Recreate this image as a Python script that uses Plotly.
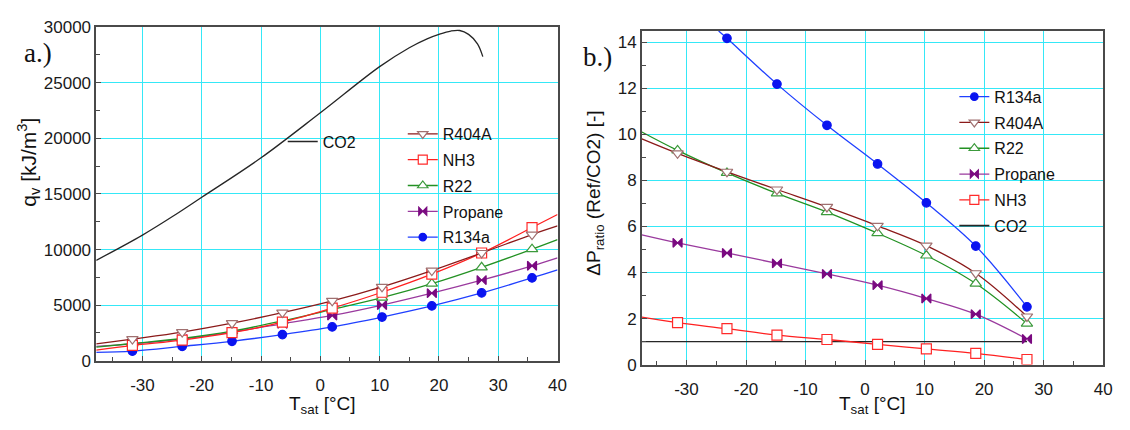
import plotly.graph_objects as go

W, H = 1130, 430

# ---------------- data: panel a (volumetric capacity, kJ/m3) ----------------
T_mark = [-31.7, -23.3, -14.9, -6.4, 2.0, 10.4, 18.8, 27.2, 35.7]
T_left_edge = -37.8
T_right_edge = 40.0

qv_R134a = [860, 1290, 1750, 2350, 3040, 3930, 4930, 6100, 7450]
qv_R134a_ends = [745, 8170]
qv_Propane = [1520, 1950, 2580, 3320, 4070, 5010, 6080, 7250, 8540]
qv_Propane_ends = [1290, 9260]
qv_R22 = [1550, 2000, 2660, 3580, 4610, 5670, 6930, 8400, 10030]
qv_R22_ends = [1230, 10890]
qv_NH3 = [1380, 1860, 2520, 3470, 4730, 6160, 7790, 9690, 11980]
qv_NH3_ends = [950, 13150]
qv_R404A = [1950, 2580, 3380, 4330, 5390, 6650, 8110, 9690, 11350]
qv_R404A_ends = [1520, 12120]

T_co2 = [-37.8, -30.0, -24.4, -20.0, -10.0, 0.0, 10.0, 15.0, 18.0, 20.0, 22.0, 23.5, 25.0, 26.5, 27.4]
qv_CO2 = [9030, 11300, 13150, 14700, 18250, 22300, 26450, 28150, 28950, 29350, 29650, 29700, 29350, 28500, 27350]

# ---------------- data: panel b (pressure-drop ratio) ----------------
Tb_mark = [-31.5, -23.2, -14.8, -6.4, 2.1, 10.3, 18.6, 27.2]
Tb_left_edge = -37.5

dp_R134a_T = [-24.6, -23.2, -14.8, -6.4, 2.1, 10.3, 18.6, 27.2]
dp_R134a = [14.5, 14.18, 12.19, 10.40, 8.72, 7.03, 5.15, 2.51]
dp_R404A = [9.18, 8.38, 7.61, 6.85, 6.03, 5.17, 3.97, 2.09]
dp_R404A_start = 9.81
dp_R22 = [9.31, 8.33, 7.44, 6.63, 5.71, 4.74, 3.52, 1.78]
dp_R22_start = 10.11
dp_Propane = [5.29, 4.85, 4.40, 3.94, 3.45, 2.87, 2.19, 1.11]
dp_Propane_start = 5.64
dp_NH3 = [1.82, 1.56, 1.28, 1.09, 0.88, 0.68, 0.49, 0.22]
dp_NH3_start = 2.06
dp_CO2_T = [-37.5, 27.2]
dp_CO2 = [1.0, 1.0]

# tick labels
x_ticks = [-30, -20, -10, 0, 10, 20, 30, 40]
x_ticklabels = ["-30", "-20", "-10", "0", "10", "20", "30", "40"]
ya_ticks = [0, 5000, 10000, 15000, 20000, 25000, 30000]
ya_ticklabels = ["0", "5000", "10000", "15000", "20000", "25000", "30000"]
yb_ticks = [0, 2, 4, 6, 8, 10, 12, 14]
yb_ticklabels = ["0", "2", "4", "6", "8", "10", "12", "14"]

# ---------------- styles ----------------
FONT = "Liberation Sans, Arial, sans-serif"
GRID = "#35E8F7"
FRAME = "#4a4a4a"

STY = {
    "R134a":   dict(line="#2040FF", sym="circle", size=8.5, fill="#0A14F0", edge="#0A14F0"),
    "R404A":   dict(line="#8B1A1A", sym="triangle-down", size=10, fill="white", edge="#A07070"),
    "R22":     dict(line="#239123", sym="triangle-up", size=10, fill="white", edge="#3C9A3C"),
    "Propane": dict(line="#9A3A9E", sym="bowtie", size=9, fill="#7A0A80", edge="#7A0A80"),
    "NH3":     dict(line="#FF2020", sym="square", size=10, fill="white", edge="#FF2A2A"),
    "CO2":     dict(line="#262626"),
}

fig = go.Figure()


def add_series(name, xl, yl, xm, ym, xa, ya):
    s = STY[name]
    fig.add_trace(go.Scatter(x=xl, y=yl, mode="lines", line=dict(color=s["line"], width=1.3, shape="spline"),
                             showlegend=False, hoverinfo="skip", xaxis=xa, yaxis=ya))
    fig.add_trace(go.Scatter(x=xm, y=ym, mode="markers",
                             marker=dict(symbol=s["sym"], size=s["size"], color=s["fill"],
                                         line=dict(color=s["edge"], width=1.2)),
                             showlegend=False, xaxis=xa, yaxis=ya))


def add_legend_entry(name, legend, xa, ya, with_marker=True):
    s = STY[name]
    if with_marker:
        fig.add_trace(go.Scatter(x=[None], y=[None], mode="lines+markers", name=name,
                                 line=dict(color=s["line"], width=1.3),
                                 marker=dict(symbol=s["sym"], size=s["size"] - 1, color=s["fill"],
                                             line=dict(color=s["edge"], width=1.2)),
                                 legend=legend, legendgroup=legend + name, xaxis=xa, yaxis=ya))
    else:
        fig.add_trace(go.Scatter(x=[None], y=[None], mode="lines", name=name,
                                 line=dict(color=s["line"], width=1.6),
                                 legend=legend, legendgroup=legend + name, xaxis=xa, yaxis=ya))


# panel a
fig.add_trace(go.Scatter(x=T_co2, y=qv_CO2, mode="lines", line=dict(color=STY["CO2"]["line"], width=1.3, shape="spline"),
                         showlegend=False, xaxis="x", yaxis="y"))
for nm, vals, ends in [("R134a", qv_R134a, qv_R134a_ends), ("Propane", qv_Propane, qv_Propane_ends),
                       ("R22", qv_R22, qv_R22_ends), ("NH3", qv_NH3, qv_NH3_ends),
                       ("R404A", qv_R404A, qv_R404A_ends)]:
    add_series(nm, [T_left_edge] + T_mark + [T_right_edge], [ends[0]] + vals + [ends[1]],
               T_mark, vals, "x", "y")

# panel b
fig.add_trace(go.Scatter(x=dp_CO2_T, y=dp_CO2, mode="lines", line=dict(color=STY["CO2"]["line"], width=1.3),
                         showlegend=False, xaxis="x2", yaxis="y2"))
add_series("NH3", [Tb_left_edge] + Tb_mark, [dp_NH3_start] + dp_NH3, Tb_mark, dp_NH3, "x2", "y2")
add_series("Propane", [Tb_left_edge] + Tb_mark, [dp_Propane_start] + dp_Propane, Tb_mark, dp_Propane, "x2", "y2")
add_series("R22", [Tb_left_edge] + Tb_mark, [dp_R22_start] + dp_R22, Tb_mark, dp_R22, "x2", "y2")
add_series("R404A", [Tb_left_edge] + Tb_mark, [dp_R404A_start] + dp_R404A, Tb_mark, dp_R404A, "x2", "y2")
add_series("R134a", dp_R134a_T, dp_R134a, dp_R134a_T[1:], dp_R134a[1:], "x2", "y2")

# legends
for nm in ["R404A", "NH3", "R22", "Propane", "R134a"]:
    add_legend_entry(nm, "legend", "x", "y")
add_legend_entry("CO2", "legend2", "x", "y", with_marker=False)
for nm in ["R134a", "R404A", "R22", "Propane", "NH3"]:
    add_legend_entry(nm, "legend3", "x2", "y2")
add_legend_entry("CO2", "legend3", "x2", "y2", with_marker=False)


def px_x(p):
    return p / W


def px_y(p):
    return 1 - p / H


axis_common = dict(
    showline=True, mirror=True, linecolor=FRAME, linewidth=1.5,
    showgrid=True, gridcolor=GRID, gridwidth=1.2, zeroline=False,
    ticks="inside", ticklen=5, tickcolor=FRAME, tickwidth=1,
    tickfont=dict(family=FONT, size=17, color="#1a1a1a"),
)

leg_common = dict(font=dict(family=FONT, size=16, color="#111"), bgcolor="rgba(0,0,0,0)",
                  borderwidth=0, itemwidth=30, xanchor="left", yanchor="top",
                  traceorder="grouped", itemclick=False, itemdoubleclick=False)

fig.update_layout(
    width=W, height=H, margin=dict(l=0, r=0, t=0, b=0),
    paper_bgcolor="white", plot_bgcolor="white",
    showlegend=True,
    xaxis=dict(domain=[px_x(97), px_x(562)], range=[-37.8, 40], tickvals=x_ticks, ticktext=x_ticklabels,
               minor=dict(dtick=5, tick0=-35, ticks="inside", ticklen=4, tickcolor=FRAME, showgrid=False),
               ticklabelstandoff=8, anchor="y", **axis_common),
    yaxis=dict(domain=[px_y(368), px_y(19)], range=[0, 30000], tickvals=ya_ticks, ticktext=ya_ticklabels,
               minor=dict(dtick=2500, tick0=0, ticks="inside", ticklen=4, tickcolor=FRAME, showgrid=False),
               anchor="x", **axis_common),
    xaxis2=dict(domain=[px_x(647), px_x(1112)], range=[-37.5, 40], tickvals=x_ticks, ticktext=x_ticklabels,
                minor=dict(dtick=5, tick0=-35, ticks="inside", ticklen=4, tickcolor=FRAME, showgrid=False),
                ticklabelstandoff=8, anchor="y2", **axis_common),
    yaxis2=dict(domain=[px_y(372), px_y(23)], range=[0, 14.5], tickvals=yb_ticks, ticktext=yb_ticklabels,
                minor=dict(dtick=1, tick0=0, ticks="inside", ticklen=4, tickcolor=FRAME, showgrid=False),
                anchor="x2", **axis_common),
    legend=dict(x=px_x(406), y=px_y(113), tracegroupgap=2, **leg_common),
    legend2=dict(x=px_x(285), y=px_y(121), tracegroupgap=0, **leg_common),
    legend3=dict(x=px_x(962), y=px_y(74), tracegroupgap=2, **leg_common),
)

ann = [
    dict(text="a.)", x=px_x(38), y=px_y(46), font=dict(family="Liberation Serif, Times New Roman, serif", size=27, color="#111")),
    dict(text="b.)", x=px_x(602), y=px_y(50), font=dict(family="Liberation Serif, Times New Roman, serif", size=27, color="#111")),
    dict(text="q<sub>v</sub> [kJ/m<sup>3</sup>]", x=px_x(29), y=px_y(160), textangle=-90,
         font=dict(family=FONT, size=21, color="#111")),
    dict(text="ΔP<sub>ratio</sub> (Ref/CO2) [-]", x=px_x(600), y=px_y(193), textangle=-90,
         font=dict(family=FONT, size=19, color="#111")),
    dict(text="T<sub>sat</sub> [°C]", x=px_x(325), y=px_y(414), font=dict(family=FONT, size=19, color="#111")),
    dict(text="T<sub>sat</sub> [°C]", x=px_x(880), y=px_y(414), font=dict(family=FONT, size=19, color="#111")),
]
for a in ann:
    a.update(xref="paper", yref="paper", showarrow=False, xanchor="center", yanchor="middle")
fig.update_layout(annotations=ann)

fig.write_html("out.html")
